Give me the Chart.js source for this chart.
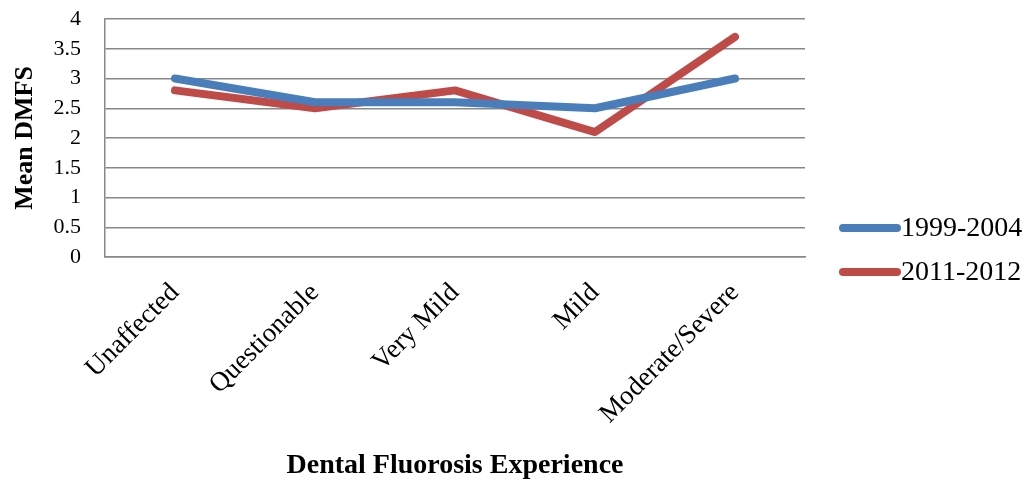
<!DOCTYPE html>
<html>
<head>
<meta charset="utf-8">
<script src="https://cdn.jsdelivr.net/npm/chart.js@4.4.0/dist/chart.umd.min.js"></script>
<style>
html,body{margin:0;padding:0;background:#fff;}
#wrap{width:1036px;height:483px;}
</style>
</head>
<body>
<div id="wrap"><canvas id="c" width="1036" height="483"></canvas></div>
<script>
const categories = ["Unaffected", "Questionable", "Very Mild", "Mild", "Moderate/Severe"];
const seriesNames = ["1999-2004", "2011-2012"];
const series1999 = [3.0, 2.6, 2.6, 2.5, 3.0];
const series2011 = [2.8, 2.5, 2.8, 2.1, 3.7];
const yTicks = [0, 0.5, 1, 1.5, 2, 2.5, 3, 3.5, 4];
const colors = ["#4A7EBB", "#BE4B48"];

const SERIF = "'Liberation Serif', 'Times New Roman', serif";

const legendPlugin = {
  id: 'customLegend',
  afterDraw(chart) {
    const ctx = chart.ctx;
    ctx.save();
    chart.data.datasets.forEach((ds, i) => {
      const y = 228 + i * 44;
      ctx.strokeStyle = ds.borderColor;
      ctx.lineWidth = 8;
      ctx.lineCap = 'round';
      ctx.beginPath();
      ctx.moveTo(843, y);
      ctx.lineTo(897, y);
      ctx.stroke();
      ctx.fillStyle = '#000';
      ctx.font = "28px " + SERIF;
      ctx.textBaseline = 'middle';
      ctx.textAlign = 'left';
      ctx.fillText(ds.label, 901, y + 1);
    });
    ctx.restore();
  }
};

new Chart(document.getElementById('c'), {
  type: 'line',
  data: {
    labels: categories,
    datasets: [
      { label: seriesNames[0], data: series1999, borderColor: colors[0], backgroundColor: colors[0], borderWidth: 8, pointRadius: 0, borderCapStyle: 'round', borderJoinStyle: 'round', tension: 0 },
      { label: seriesNames[1], data: series2011, borderColor: colors[1], backgroundColor: colors[1], borderWidth: 8, pointRadius: 0, borderCapStyle: 'round', borderJoinStyle: 'round', tension: 0 }
    ]
  },
  options: {
    responsive: false,
    animation: false,
    layout: { padding: { left: 0, right: 231, top: 19, bottom: 0 } },
    plugins: { legend: { display: false }, tooltip: { enabled: false } },
    scales: {
      x: {
        offset: true,
        grid: { display: false, drawTicks: false },
        border: { display: true, color: '#888', width: 1.5 },
        ticks: { color: '#000', font: { family: SERIF, size: 27 }, maxRotation: 45, minRotation: 45, padding: 20, autoSkip: false },
        title: { display: true, text: 'Dental Fluorosis Experience', color: '#000', font: { family: SERIF, size: 28, weight: 'bold' }, padding: { top: 0, bottom: 0 } },
        afterFit(scale) { scale.height = 226; scale.paddingTop = 0; }
      },
      y: {
        min: 0, max: 4,
        ticks: { stepSize: 0.5, autoSkip: false, color: '#000', font: { family: SERIF, size: 22 }, padding: 24, callback: v => String(v) },
        afterBuildTicks(scale) { scale.ticks = yTicks.map(v => ({ value: v })); },
        grid: { color: '#888', lineWidth: 1.5, drawTicks: false },
        border: { display: true, color: '#888', width: 1.5 },
        title: { display: true, text: 'Mean DMFS', color: '#000', font: { family: SERIF, size: 26, weight: 'bold' }, padding: { top: 10, bottom: 0 } },
        afterFit(scale) { scale.width = 105; scale.paddingTop = 0; }
      }
    }
  },
  plugins: [legendPlugin]
});
</script>
</body>
</html>
